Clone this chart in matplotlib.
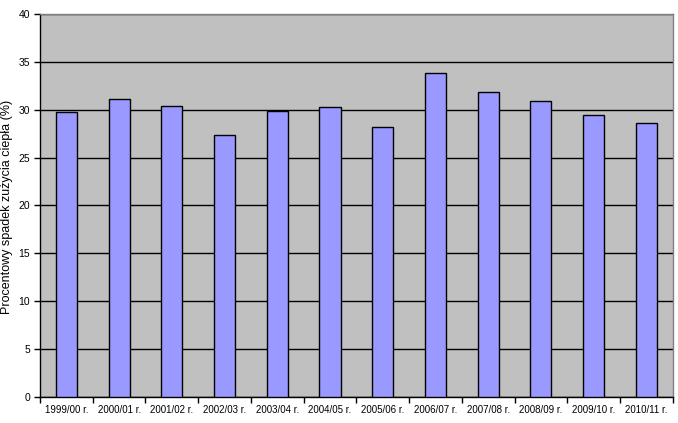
import matplotlib
matplotlib.use("Agg")
import matplotlib.pyplot as plt
import numpy as np

categories = ["1999/00 r.", "2000/01 r.", "2001/02 r.", "2002/03 r.", "2003/04 r.", "2004/05 r.",
              "2005/06 r.", "2006/07 r.", "2007/08 r.", "2008/09 r.", "2009/10 r.", "2010/11 r."]
values = [29.8, 31.1, 30.4, 27.4, 29.9, 30.3, 28.2, 33.9, 31.9, 30.9, 29.5, 28.6]
y_ticks = [0, 5, 10, 15, 20, 25, 30, 35, 40]
y_label = "Procentowy spadek zużycia ciepła (%)"

plt.rcParams['font.family'] = ['Liberation Sans', 'DejaVu Sans']

fig = plt.figure(figsize=(6.78, 4.23), dpi=100)
ax = fig.add_axes([40/678, 26.5/423, 632.7/678, 382.3/423])
ax.set_facecolor('#C0C0C0')

x = np.arange(len(categories))
ax.bar(x, values, width=0.4, color='#9999FF', edgecolor='black', linewidth=1.0, zorder=3)

ax.set_xlim(-0.5, len(categories) - 0.5)
ax.set_ylim(0, 40)
ax.set_yticks(y_ticks)
ax.set_yticklabels([str(t) for t in y_ticks], fontsize=7.5)
ax.yaxis.grid(True, color='black', linewidth=1.0, zorder=1)
ax.set_axisbelow(True)

ax.set_xticks(x)
ax.set_xticklabels(categories, fontsize=7)
ax.tick_params(axis='x', length=0, pad=6)
ax.set_xticks(np.arange(len(categories) + 1) - 0.5, minor=True)
ax.tick_params(axis='x', which='minor', length=4, width=1, color='black', direction='out')
ax.tick_params(axis='y', length=4, width=1, color='black', direction='out', pad=3)

for s in ['left', 'bottom']:
    ax.spines[s].set_color('black')
    ax.spines[s].set_linewidth(1.0)
for s in ['top', 'right']:
    ax.spines[s].set_color('#808080')
    ax.spines[s].set_linewidth(1.0)

fig.text(7.5/678, 1 - 207/423, y_label, rotation=90, ha='center', va='center', fontsize=9)

fig.savefig("out.png", dpi=100)
